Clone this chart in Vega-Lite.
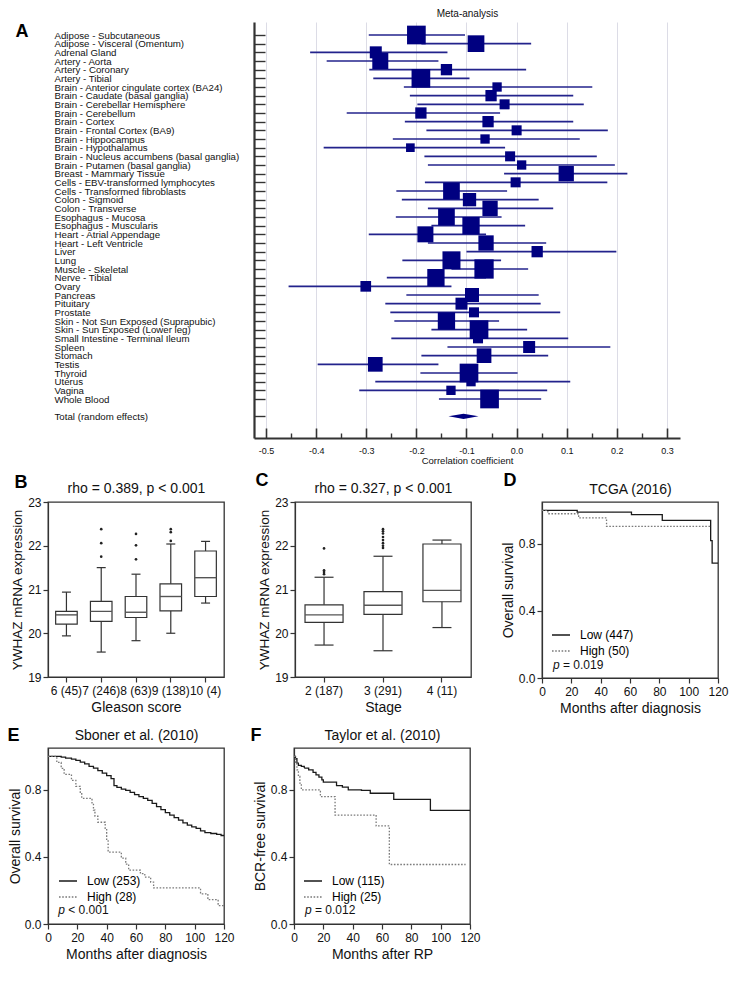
{
"$schema": "https://vega.github.io/schema/vega-lite/v6.json",
"background": "white",
"padding": {"left": 5, "top": 8, "right": 5, "bottom": 5},
"config": {
  "font": "Liberation Sans",
  "view": {"stroke": null},
  "axis": {"labelFont": "Liberation Sans", "titleFont": "Liberation Sans", "labelColor": "#111", "titleColor": "#111", "domainColor": "#333", "tickColor": "#333", "titleFontWeight": "normal", "grid": false},
  "legend": {"labelFont": "Liberation Sans"},
  "text": {"font": "Liberation Sans"}
},
"datasets": {
  "forest": [
    {"ord": 0, "kind": "s", "tissue": "   "},
    {"ord": 1, "kind": "t", "tissue": "Adipose - Subcutaneous", "r": -0.200, "lo": -0.295, "hi": -0.103, "w": 2.33},
    {"ord": 2, "kind": "t", "tissue": "Adipose - Visceral (Omentum)", "r": -0.081, "lo": -0.190, "hi": 0.029, "w": 1.86},
    {"ord": 3, "kind": "t", "tissue": "Adrenal Gland", "r": -0.281, "lo": -0.412, "hi": -0.138, "w": 0.96},
    {"ord": 4, "kind": "t", "tissue": "Artery - Aorta", "r": -0.272, "lo": -0.379, "hi": -0.156, "w": 1.71},
    {"ord": 5, "kind": "t", "tissue": "Artery - Coronary", "r": -0.140, "lo": -0.294, "hi": 0.019, "w": 0.85},
    {"ord": 6, "kind": "t", "tissue": "Artery - Tibial", "r": -0.191, "lo": -0.286, "hi": -0.094, "w": 2.33},
    {"ord": 7, "kind": "t", "tissue": "Brain - Anterior cingulate cortex (BA24)", "r": -0.039, "lo": -0.225, "hi": 0.151, "w": 0.58},
    {"ord": 8, "kind": "t", "tissue": "Brain - Caudate (basal ganglia)", "r": -0.051, "lo": -0.213, "hi": 0.113, "w": 0.85},
    {"ord": 9, "kind": "t", "tissue": "Brain - Cerebellar Hemisphere", "r": -0.024, "lo": -0.198, "hi": 0.134, "w": 0.67},
    {"ord": 10, "kind": "t", "tissue": "Brain - Cerebellum", "r": -0.191, "lo": -0.339, "hi": -0.033, "w": 0.85},
    {"ord": 11, "kind": "t", "tissue": "Brain - Cortex", "r": -0.057, "lo": -0.223, "hi": 0.113, "w": 0.85},
    {"ord": 12, "kind": "t", "tissue": "Brain - Frontal Cortex (BA9)", "r": 0.000, "lo": -0.180, "hi": 0.182, "w": 0.67},
    {"ord": 13, "kind": "t", "tissue": "Brain - Hippocampus", "r": -0.063, "lo": -0.247, "hi": 0.126, "w": 0.58},
    {"ord": 14, "kind": "t", "tissue": "Brain - Hypothalamus", "r": -0.212, "lo": -0.385, "hi": -0.023, "w": 0.50},
    {"ord": 15, "kind": "t", "tissue": "Brain - Nucleus accumbens (basal ganglia)", "r": -0.013, "lo": -0.184, "hi": 0.160, "w": 0.67},
    {"ord": 16, "kind": "t", "tissue": "Brain - Putamen (basal ganglia)", "r": 0.010, "lo": -0.177, "hi": 0.196, "w": 0.58},
    {"ord": 17, "kind": "t", "tissue": "Breast - Mammary Tissue", "r": 0.099, "lo": -0.025, "hi": 0.221, "w": 1.56},
    {"ord": 18, "kind": "t", "tissue": "Cells - EBV-transformed lymphocytes", "r": -0.002, "lo": -0.183, "hi": 0.181, "w": 0.67},
    {"ord": 19, "kind": "t", "tissue": "Cells - Transformed fibroblasts", "r": -0.130, "lo": -0.240, "hi": -0.019, "w": 1.86},
    {"ord": 20, "kind": "t", "tissue": "Colon - Sigmoid", "r": -0.094, "lo": -0.229, "hi": 0.044, "w": 1.18},
    {"ord": 21, "kind": "t", "tissue": "Colon - Transverse", "r": -0.053, "lo": -0.177, "hi": 0.073, "w": 1.56},
    {"ord": 22, "kind": "t", "tissue": "Esophagus - Mucosa", "r": -0.140, "lo": -0.241, "hi": -0.030, "w": 1.86},
    {"ord": 23, "kind": "t", "tissue": "Esophagus - Muscularis", "r": -0.091, "lo": -0.170, "hi": 0.017, "w": 2.00},
    {"ord": 24, "kind": "t", "tissue": "Heart - Atrial Appendage", "r": -0.182, "lo": -0.295, "hi": -0.061, "w": 1.71},
    {"ord": 25, "kind": "t", "tissue": "Heart - Left Ventricle", "r": -0.061, "lo": -0.177, "hi": 0.059, "w": 1.56},
    {"ord": 26, "kind": "t", "tissue": "Liver", "r": 0.041, "lo": -0.100, "hi": 0.199, "w": 0.85},
    {"ord": 27, "kind": "t", "tissue": "Lung", "r": -0.130, "lo": -0.228, "hi": -0.031, "w": 2.16},
    {"ord": 28, "kind": "t", "tissue": "Muscle - Skeletal", "r": -0.065, "lo": -0.130, "hi": 0.023, "w": 2.48},
    {"ord": 29, "kind": "t", "tissue": "Nerve - Tibial", "r": -0.161, "lo": -0.259, "hi": -0.061, "w": 2.00},
    {"ord": 30, "kind": "t", "tissue": "Ovary", "r": -0.301, "lo": -0.455, "hi": -0.130, "w": 0.76},
    {"ord": 31, "kind": "t", "tissue": "Pancreas", "r": -0.089, "lo": -0.220, "hi": 0.044, "w": 1.31},
    {"ord": 32, "kind": "t", "tissue": "Pituitary", "r": -0.110, "lo": -0.262, "hi": 0.048, "w": 0.96},
    {"ord": 33, "kind": "t", "tissue": "Prostate", "r": -0.085, "lo": -0.252, "hi": 0.087, "w": 0.67},
    {"ord": 34, "kind": "t", "tissue": "Skin - Not Sun Exposed (Suprapubic)", "r": -0.140, "lo": -0.244, "hi": -0.035, "w": 2.00},
    {"ord": 35, "kind": "t", "tissue": "Skin - Sun Exposed (Lower leg)", "r": -0.075, "lo": -0.170, "hi": 0.021, "w": 2.33},
    {"ord": 36, "kind": "t", "tissue": "Small Intestine - Terminal Ileum", "r": -0.077, "lo": -0.250, "hi": 0.103, "w": 0.67},
    {"ord": 37, "kind": "t", "tissue": "Spleen", "r": 0.025, "lo": -0.138, "hi": 0.187, "w": 0.96},
    {"ord": 38, "kind": "t", "tissue": "Stomach", "r": -0.065, "lo": -0.190, "hi": 0.063, "w": 1.44},
    {"ord": 39, "kind": "t", "tissue": "Testis", "r": -0.282, "lo": -0.397, "hi": -0.156, "w": 1.44},
    {"ord": 40, "kind": "t", "tissue": "Thyroid", "r": -0.095, "lo": -0.192, "hi": 0.002, "w": 2.33},
    {"ord": 41, "kind": "t", "tissue": "Uterus", "r": -0.091, "lo": -0.282, "hi": 0.107, "w": 0.58},
    {"ord": 42, "kind": "t", "tissue": "Vagina", "r": -0.131, "lo": -0.314, "hi": 0.061, "w": 0.58},
    {"ord": 43, "kind": "t", "tissue": "Whole Blood", "r": -0.054, "lo": -0.155, "hi": 0.049, "w": 2.33},
    {"ord": 44, "kind": "s", "tissue": " "},
    {"ord": 45, "kind": "tot", "tissue": "Total (random effects)", "r": -0.106, "lo": -0.137, "hi": -0.076},
    {"ord": 46, "kind": "s", "tissue": "  "},
    {"ord": 47, "kind": "s", "tissue": "    "}
  ],
  "boxB": [
    {"g": "6 (45)", "gi": 0, "lo": 19.94, "q1": 20.21, "med": 20.42, "q3": 20.50, "hi": 20.94},
    {"g": "7 (246)", "gi": 1, "lo": 19.57, "q1": 20.27, "med": 20.50, "q3": 20.73, "hi": 21.50},
    {"g": "8 (63)", "gi": 2, "lo": 19.83, "q1": 20.36, "med": 20.48, "q3": 20.84, "hi": 21.35},
    {"g": "9 (138)", "gi": 3, "lo": 20.00, "q1": 20.51, "med": 20.84, "q3": 21.13, "hi": 22.04},
    {"g": "10 (4)", "gi": 4, "lo": 20.69, "q1": 20.84, "med": 21.27, "q3": 21.88, "hi": 22.10}
  ],
  "outB": [
    {"g": "7 (246)", "gi": 1, "v": 21.75}, {"g": "7 (246)", "gi": 1, "v": 22.06}, {"g": "7 (246)", "gi": 1, "v": 22.38},
    {"g": "8 (63)", "gi": 2, "v": 21.69}, {"g": "8 (63)", "gi": 2, "v": 22.01}, {"g": "8 (63)", "gi": 2, "v": 22.27},
    {"g": "9 (138)", "gi": 3, "v": 22.11}, {"g": "9 (138)", "gi": 3, "v": 22.31}, {"g": "9 (138)", "gi": 3, "v": 22.38}
  ],
  "boxC": [
    {"g": "2 (187)", "gi": 0, "lo": 19.73, "q1": 20.25, "med": 20.42, "q3": 20.65, "hi": 21.28},
    {"g": "3 (291)", "gi": 1, "lo": 19.60, "q1": 20.43, "med": 20.64, "q3": 20.95, "hi": 21.76},
    {"g": "4 (11)", "gi": 2, "lo": 20.13, "q1": 20.72, "med": 20.98, "q3": 22.04, "hi": 22.13}
  ],
  "outC": [
    {"g": "2 (187)", "gi": 0, "v": 21.35}, {"g": "2 (187)", "gi": 0, "v": 21.40}, {"g": "2 (187)", "gi": 0, "v": 21.44}, {"g": "2 (187)", "gi": 0, "v": 21.94},
    {"g": "3 (291)", "gi": 1, "v": 21.95}, {"g": "3 (291)", "gi": 1, "v": 22.00}, {"g": "3 (291)", "gi": 1, "v": 22.06}, {"g": "3 (291)", "gi": 1, "v": 22.13},
    {"g": "3 (291)", "gi": 1, "v": 22.20}, {"g": "3 (291)", "gi": 1, "v": 22.28}, {"g": "3 (291)", "gi": 1, "v": 22.33}, {"g": "3 (291)", "gi": 1, "v": 22.38}
  ],
  "km": [
    {"panel": "D", "grp": "Low (447)", "t": 0, "s": 1}, {"panel": "D", "grp": "Low (447)", "t": 24, "s": 0.99}, {"panel": "D", "grp": "Low (447)", "t": 61, "s": 0.975}, {"panel": "D", "grp": "Low (447)", "t": 82, "s": 0.94}, {"panel": "D", "grp": "Low (447)", "t": 115, "s": 0.82}, {"panel": "D", "grp": "Low (447)", "t": 116, "s": 0.685}, {"panel": "D", "grp": "Low (447)", "t": 120, "s": 0.685},
    {"panel": "D", "grp": "High (50)", "t": 0, "s": 1}, {"panel": "D", "grp": "High (50)", "t": 4, "s": 0.98}, {"panel": "D", "grp": "High (50)", "t": 25, "s": 0.955}, {"panel": "D", "grp": "High (50)", "t": 44, "s": 0.905}, {"panel": "D", "grp": "High (50)", "t": 115, "s": 0.905},
    {"panel": "E", "grp": "Low (253)", "t": 0, "s": 1}, {"panel": "E", "grp": "Low (253)", "t": 9, "s": 0.996}, {"panel": "E", "grp": "Low (253)", "t": 12, "s": 0.99}, {"panel": "E", "grp": "Low (253)", "t": 16, "s": 0.984}, {"panel": "E", "grp": "Low (253)", "t": 19, "s": 0.976}, {"panel": "E", "grp": "Low (253)", "t": 22, "s": 0.966}, {"panel": "E", "grp": "Low (253)", "t": 25, "s": 0.955}, {"panel": "E", "grp": "Low (253)", "t": 28, "s": 0.94}, {"panel": "E", "grp": "Low (253)", "t": 31, "s": 0.93}, {"panel": "E", "grp": "Low (253)", "t": 34, "s": 0.915}, {"panel": "E", "grp": "Low (253)", "t": 37, "s": 0.9}, {"panel": "E", "grp": "Low (253)", "t": 40, "s": 0.885}, {"panel": "E", "grp": "Low (253)", "t": 43, "s": 0.867}, {"panel": "E", "grp": "Low (253)", "t": 45, "s": 0.825}, {"panel": "E", "grp": "Low (253)", "t": 47, "s": 0.815}, {"panel": "E", "grp": "Low (253)", "t": 50, "s": 0.805}, {"panel": "E", "grp": "Low (253)", "t": 53, "s": 0.797}, {"panel": "E", "grp": "Low (253)", "t": 56, "s": 0.785}, {"panel": "E", "grp": "Low (253)", "t": 59, "s": 0.772}, {"panel": "E", "grp": "Low (253)", "t": 62, "s": 0.76}, {"panel": "E", "grp": "Low (253)", "t": 65, "s": 0.75}, {"panel": "E", "grp": "Low (253)", "t": 68, "s": 0.737}, {"panel": "E", "grp": "Low (253)", "t": 71, "s": 0.72}, {"panel": "E", "grp": "Low (253)", "t": 74, "s": 0.7}, {"panel": "E", "grp": "Low (253)", "t": 77, "s": 0.682}, {"panel": "E", "grp": "Low (253)", "t": 80, "s": 0.665}, {"panel": "E", "grp": "Low (253)", "t": 83, "s": 0.65}, {"panel": "E", "grp": "Low (253)", "t": 86, "s": 0.635}, {"panel": "E", "grp": "Low (253)", "t": 89, "s": 0.62}, {"panel": "E", "grp": "Low (253)", "t": 92, "s": 0.603}, {"panel": "E", "grp": "Low (253)", "t": 95, "s": 0.59}, {"panel": "E", "grp": "Low (253)", "t": 98, "s": 0.58}, {"panel": "E", "grp": "Low (253)", "t": 101, "s": 0.57}, {"panel": "E", "grp": "Low (253)", "t": 104, "s": 0.555}, {"panel": "E", "grp": "Low (253)", "t": 107, "s": 0.545}, {"panel": "E", "grp": "Low (253)", "t": 111, "s": 0.54}, {"panel": "E", "grp": "Low (253)", "t": 115, "s": 0.535}, {"panel": "E", "grp": "Low (253)", "t": 118, "s": 0.528}, {"panel": "E", "grp": "Low (253)", "t": 120, "s": 0.528},
    {"panel": "E", "grp": "High (28)", "t": 0, "s": 1}, {"panel": "E", "grp": "High (28)", "t": 6, "s": 0.964}, {"panel": "E", "grp": "High (28)", "t": 9, "s": 0.929}, {"panel": "E", "grp": "High (28)", "t": 11, "s": 0.893}, {"panel": "E", "grp": "High (28)", "t": 16, "s": 0.857}, {"panel": "E", "grp": "High (28)", "t": 19, "s": 0.821}, {"panel": "E", "grp": "High (28)", "t": 22, "s": 0.786}, {"panel": "E", "grp": "High (28)", "t": 23, "s": 0.75}, {"panel": "E", "grp": "High (28)", "t": 30, "s": 0.714}, {"panel": "E", "grp": "High (28)", "t": 31, "s": 0.679}, {"panel": "E", "grp": "High (28)", "t": 32, "s": 0.643}, {"panel": "E", "grp": "High (28)", "t": 34, "s": 0.607}, {"panel": "E", "grp": "High (28)", "t": 39, "s": 0.571}, {"panel": "E", "grp": "High (28)", "t": 40, "s": 0.5}, {"panel": "E", "grp": "High (28)", "t": 41, "s": 0.429}, {"panel": "E", "grp": "High (28)", "t": 50, "s": 0.393}, {"panel": "E", "grp": "High (28)", "t": 53, "s": 0.357}, {"panel": "E", "grp": "High (28)", "t": 55, "s": 0.321}, {"panel": "E", "grp": "High (28)", "t": 63, "s": 0.3}, {"panel": "E", "grp": "High (28)", "t": 66, "s": 0.28}, {"panel": "E", "grp": "High (28)", "t": 70, "s": 0.25}, {"panel": "E", "grp": "High (28)", "t": 72, "s": 0.215}, {"panel": "E", "grp": "High (28)", "t": 104, "s": 0.18}, {"panel": "E", "grp": "High (28)", "t": 109, "s": 0.145}, {"panel": "E", "grp": "High (28)", "t": 116, "s": 0.11}, {"panel": "E", "grp": "High (28)", "t": 120, "s": 0.11},
    {"panel": "F", "grp": "Low (115)", "t": 0, "s": 1}, {"panel": "F", "grp": "Low (115)", "t": 1, "s": 0.986}, {"panel": "F", "grp": "Low (115)", "t": 2, "s": 0.96}, {"panel": "F", "grp": "Low (115)", "t": 3, "s": 0.946}, {"panel": "F", "grp": "Low (115)", "t": 5, "s": 0.94}, {"panel": "F", "grp": "Low (115)", "t": 7, "s": 0.93}, {"panel": "F", "grp": "Low (115)", "t": 10, "s": 0.92}, {"panel": "F", "grp": "Low (115)", "t": 13, "s": 0.905}, {"panel": "F", "grp": "Low (115)", "t": 15, "s": 0.89}, {"panel": "F", "grp": "Low (115)", "t": 17, "s": 0.876}, {"panel": "F", "grp": "Low (115)", "t": 19, "s": 0.86}, {"panel": "F", "grp": "Low (115)", "t": 20, "s": 0.846}, {"panel": "F", "grp": "Low (115)", "t": 29, "s": 0.826}, {"panel": "F", "grp": "Low (115)", "t": 33, "s": 0.816}, {"panel": "F", "grp": "Low (115)", "t": 37, "s": 0.8}, {"panel": "F", "grp": "Low (115)", "t": 46, "s": 0.797}, {"panel": "F", "grp": "Low (115)", "t": 52, "s": 0.78}, {"panel": "F", "grp": "Low (115)", "t": 68, "s": 0.743}, {"panel": "F", "grp": "Low (115)", "t": 93, "s": 0.678}, {"panel": "F", "grp": "Low (115)", "t": 120, "s": 0.678},
    {"panel": "F", "grp": "High (25)", "t": 0, "s": 1}, {"panel": "F", "grp": "High (25)", "t": 1, "s": 0.96}, {"panel": "F", "grp": "High (25)", "t": 2, "s": 0.92}, {"panel": "F", "grp": "High (25)", "t": 3, "s": 0.88}, {"panel": "F", "grp": "High (25)", "t": 4, "s": 0.84}, {"panel": "F", "grp": "High (25)", "t": 5, "s": 0.8}, {"panel": "F", "grp": "High (25)", "t": 18, "s": 0.76}, {"panel": "F", "grp": "High (25)", "t": 28, "s": 0.65}, {"panel": "F", "grp": "High (25)", "t": 56, "s": 0.585}, {"panel": "F", "grp": "High (25)", "t": 65, "s": 0.355}, {"panel": "F", "grp": "High (25)", "t": 117, "s": 0.355}
  ],
  "ptext": [
    {"panel": "D", "t": 7.5, "s": 0.075, "p": "p", "rest": "= 0.019"},
    {"panel": "E", "t": 7, "s": 0.085, "p": "p", "rest": "< 0.001"},
    {"panel": "F", "t": 7.5, "s": 0.085, "p": "p", "rest": "= 0.012"}
  ]
},
"columns": 1,
"spacing": 4,
"align": "none",
"resolve": {"scale": {"color": "independent", "strokeDash": "independent", "size": "independent"}},
"concat": [
  {
    "hconcat": [
      {
        "width": 1, "height": 416,
        "data": {"values": [{"k": 0}]},
        "mark": {"type": "text"},
        "encoding": {"text": {"value": ""}}
      },
      {
        "width": 426, "height": 416,
        "data": {"name": "forest"},
        "encoding": {
          "y": {"field": "tissue", "type": "nominal", "sort": {"field": "ord", "op": "min"},
            "scale": {"type": "point", "paddingOuter": 0.5},
            "axis": {"title": "A", "titleAngle": 0, "titleX": -239, "titleY": 14, "titleAlign": "left", "titleBaseline": "alphabetic", "titleFontSize": 18, "titleFontWeight": "bold", "titleColor": "#000",
              "labelAlign": "left", "labelPadding": 211, "labelFontSize": 9.7, "labelLimit": 400, "labelBaseline": "middle", "labelOverlap": false, "labelColor": "#111",
              "tickSize": -11, "tickWidth": 1.4, "tickOpacity": {"condition": {"test": "trim(datum.value) === ''", "value": 0}, "value": 1},
              "domainWidth": 2.2, "grid": false}}
        },
        "layer": [
          {"mark": {"type": "text"}, "encoding": {"text": {"value": ""}}},
          {"transform": [{"filter": "datum.kind === 't'"}],
           "mark": {"type": "rule", "color": "#23238c", "strokeWidth": 1.6},
           "encoding": {
             "x": {"field": "lo", "type": "quantitative", "scale": {"domain": [-0.524, 0.326], "nice": false, "zero": false},
               "axis": {"orient": "bottom", "values": [-0.5, -0.4, -0.3, -0.2, -0.1, 0, 0.1, 0.2, 0.3], "format": ".1f", "labelExpr": "replace(datum.label, '\u2212', '-')",
                 "labelFontSize": 9, "labelPadding": 18, "tickSize": -10, "tickWidth": 1.6, "domainWidth": 2.2, "labelFlush": false,
                 "grid": true, "gridColor": "#dcdce6", "gridWidth": 1,
                 "title": "Correlation coefficient", "titleFontSize": 9.5, "titlePadding": 0}},
             "x2": {"field": "hi"}}},
          {"transform": [{"filter": "datum.kind === 't'"}],
           "mark": {"type": "point", "shape": "square", "filled": true, "color": "#000080", "opacity": 1},
           "encoding": {
             "x": {"field": "r", "type": "quantitative", "scale": {"domain": [-0.524, 0.326], "nice": false, "zero": false},
               "axis": {"orient": "bottom", "values": [-0.45, -0.35, -0.25, -0.15, -0.05, 0.05, 0.15, 0.25], "labels": false, "domain": false, "grid": false, "tickSize": -5, "tickWidth": 1.4,
                 "title": "A", "titleOpacity": 0, "titleX": -249, "titleY": -30, "titleAlign": "left", "titleBaseline": "alphabetic", "titleFontSize": 10}},
             "size": {"field": "w", "type": "quantitative", "scale": {"domain": [0, 2.5], "range": [0, 375], "zero": true}, "legend": null}}},
          {"transform": [{"filter": "datum.kind === 'tot'"}],
           "mark": {"type": "point", "shape": "M-1,0L0,-0.17L1,0L0,0.17Z", "filled": true, "color": "#000080", "size": 900, "opacity": 1},
           "encoding": {
             "x": {"field": "r", "type": "quantitative", "scale": {"domain": [-0.524, 0.326], "nice": false, "zero": false},
               "axis": {"orient": "top", "labels": false, "ticks": false, "domain": false, "grid": false, "title": "Meta-analysis", "titleFontSize": 10, "titlePadding": 6, "titleBaseline": "alphabetic"}}}}
        ],
        "resolve": {"axis": {"x": "independent"}}
      }
    ],
    "spacing": 205,
    "bounds": "flush"
  },
  {
    "columns": 1,
    "spacing": 7,
    "align": "none",
    "resolve": {"scale": {"color": "independent", "strokeDash": "independent"}},
    "concat": [
      {
        "hconcat": [
          {
            "width": 176, "height": 175,
            "view": {"stroke": "#333", "strokeWidth": 1.3},
            "layer": [
              {"data": {"name": "boxB"}, "mark": {"type": "rule", "color": "#333", "strokeWidth": 1.2},
               "encoding": {
                 "x": {"field": "g", "type": "nominal", "sort": {"field": "gi", "op": "min"}, "scale": {"type": "band", "paddingInner": 0.38, "paddingOuter": 0.22},
                   "axis": {"orient": "bottom", "title": "Gleason score", "titleFontSize": 14, "titlePadding": 4, "labelFontSize": 12, "labelAngle": 0, "labelOverlap": false, "labelPadding": 3, "tickSize": 5, "tickWidth": 1.2, "domainWidth": 1.2}},
                 "y": {"field": "lo", "type": "quantitative", "scale": {"domain": [19, 23], "nice": false, "zero": false},
                   "axis": {"values": [19, 20, 21, 22, 23], "labelOverlap": false, "tickSize": 5, "tickWidth": 1.2, "labelFontSize": 12, "labelPadding": 2, "title": "YWHAZ mRNA expression", "titleFontSize": 13.5, "titlePadding": 3, "domainWidth": 1.2}},
                 "y2": {"field": "hi"}}},
              {"data": {"name": "boxB"}, "mark": {"type": "bar", "fill": "white", "stroke": "#333", "strokeWidth": 1.2},
               "encoding": {
                 "x": {"field": "g", "type": "nominal", "sort": {"field": "gi", "op": "min"}, "scale": {"type": "band", "paddingInner": 0.38, "paddingOuter": 0.22},
                   "axis": {"orient": "top", "labels": false, "ticks": false, "domain": false, "grid": false, "title": "rho = 0.389, p < 0.001", "titleFontSize": 14, "titlePadding": 10, "titleBaseline": "alphabetic"}},
                 "y": {"field": "q1", "type": "quantitative", "scale": {"domain": [19, 23], "nice": false, "zero": false}},
                 "y2": {"field": "q3"}}},
              {"data": {"name": "boxB"}, "mark": {"type": "tick", "color": "#555", "thickness": 1.4, "size": 21.6, "opacity": 1},
               "encoding": {
                 "x": {"field": "g", "type": "nominal", "sort": {"field": "gi", "op": "min"},
                   "axis": {"orient": "top", "labels": false, "ticks": false, "domain": false, "grid": false, "title": "B", "titleFontSize": 18, "titleFontWeight": "bold", "titleX": -34, "titleY": -15, "titleAlign": "left", "titleBaseline": "alphabetic", "titleColor": "#000"}},
                 "y": {"field": "med", "type": "quantitative"}}},
              {"data": {"name": "boxB"}, "mark": {"type": "tick", "color": "#333", "thickness": 1.2, "size": 9, "opacity": 1},
               "encoding": {
                 "x": {"field": "g", "type": "nominal", "sort": {"field": "gi", "op": "min"},
                   "axis": {"orient": "top", "labels": false, "ticks": false, "domain": false, "grid": false, "title": "B", "titleOpacity": 0, "titleX": -42, "titleY": -32, "titleAlign": "left", "titleBaseline": "top", "titleFontSize": 10}},
                 "y": {"field": "lo", "type": "quantitative"}}},
              {"data": {"name": "boxB"}, "mark": {"type": "tick", "color": "#333", "thickness": 1.2, "size": 9, "opacity": 1},
               "encoding": {
                 "x": {"field": "g", "type": "nominal", "sort": {"field": "gi", "op": "min"}, "axis": null},
                 "y": {"field": "hi", "type": "quantitative"}}},
              {"data": {"name": "outB"}, "mark": {"type": "circle", "size": 7, "color": "#222", "opacity": 1},
               "encoding": {
                 "x": {"field": "g", "type": "nominal", "sort": {"field": "gi", "op": "min"}, "axis": null},
                 "y": {"field": "v", "type": "quantitative"}}}
            ],
            "resolve": {"axis": {"x": "independent"}}
          },
          {
            "width": 176, "height": 175,
            "view": {"stroke": "#333", "strokeWidth": 1.3},
            "layer": [
              {"data": {"name": "boxC"}, "mark": {"type": "rule", "color": "#333", "strokeWidth": 1.2},
               "encoding": {
                 "x": {"field": "g", "type": "nominal", "sort": {"field": "gi", "op": "min"}, "scale": {"type": "band", "paddingInner": 0.355, "paddingOuter": 0.17},
                   "axis": {"orient": "bottom", "title": "Stage", "titleFontSize": 14, "titlePadding": 4, "labelFontSize": 12, "labelAngle": 0, "labelOverlap": false, "labelPadding": 3, "tickSize": 5, "tickWidth": 1.2, "domainWidth": 1.2}},
                 "y": {"field": "lo", "type": "quantitative", "scale": {"domain": [19, 23], "nice": false, "zero": false},
                   "axis": {"values": [19, 20, 21, 22, 23], "labelOverlap": false, "tickSize": 5, "tickWidth": 1.2, "labelFontSize": 12, "labelPadding": 2, "title": "YWHAZ mRNA expression", "titleFontSize": 13.5, "titlePadding": 3, "domainWidth": 1.2}},
                 "y2": {"field": "hi"}}},
              {"data": {"name": "boxC"}, "mark": {"type": "bar", "fill": "white", "stroke": "#333", "strokeWidth": 1.2},
               "encoding": {
                 "x": {"field": "g", "type": "nominal", "sort": {"field": "gi", "op": "min"}, "scale": {"type": "band", "paddingInner": 0.355, "paddingOuter": 0.17},
                   "axis": {"orient": "top", "labels": false, "ticks": false, "domain": false, "grid": false, "title": "rho = 0.327, p < 0.001", "titleFontSize": 14, "titlePadding": 10, "titleBaseline": "alphabetic"}},
                 "y": {"field": "q1", "type": "quantitative", "scale": {"domain": [19, 23], "nice": false, "zero": false}},
                 "y2": {"field": "q3"}}},
              {"data": {"name": "boxC"}, "mark": {"type": "tick", "color": "#555", "thickness": 1.4, "size": 38, "opacity": 1},
               "encoding": {
                 "x": {"field": "g", "type": "nominal", "sort": {"field": "gi", "op": "min"},
                   "axis": {"orient": "top", "labels": false, "ticks": false, "domain": false, "grid": false, "title": "C", "titleFontSize": 18, "titleFontWeight": "bold", "titleX": -40, "titleY": -17, "titleAlign": "left", "titleBaseline": "alphabetic", "titleColor": "#000"}},
                 "y": {"field": "med", "type": "quantitative"}}},
              {"data": {"name": "boxC"}, "mark": {"type": "tick", "color": "#333", "thickness": 1.2, "size": 19, "opacity": 1},
               "encoding": {
                 "x": {"field": "g", "type": "nominal", "sort": {"field": "gi", "op": "min"}, "axis": null},
                 "y": {"field": "lo", "type": "quantitative"}}},
              {"data": {"name": "boxC"}, "mark": {"type": "tick", "color": "#333", "thickness": 1.2, "size": 19, "opacity": 1},
               "encoding": {
                 "x": {"field": "g", "type": "nominal", "sort": {"field": "gi", "op": "min"}, "axis": null},
                 "y": {"field": "hi", "type": "quantitative"}}},
              {"data": {"name": "outC"}, "mark": {"type": "circle", "size": 7, "color": "#222", "opacity": 1},
               "encoding": {
                 "x": {"field": "g", "type": "nominal", "sort": {"field": "gi", "op": "min"}, "axis": null},
                 "y": {"field": "v", "type": "quantitative"}}}
            ],
            "resolve": {"axis": {"x": "independent"}}
          },
          {
            "width": 176, "height": 176,
            "view": {"stroke": "#333", "strokeWidth": 1.3},
            "layer": [
              {"data": {"name": "km"}, "transform": [{"filter": "datum.panel === 'D'"}],
               "mark": {"type": "line", "interpolate": "step-after", "strokeWidth": 1.3},
               "encoding": {
                 "x": {"field": "t", "type": "quantitative", "scale": {"domain": [0, 120], "nice": false, "zero": false},
                   "axis": {"orient": "bottom", "values": [0, 20, 40, 60, 80, 100, 120], "title": "Months after diagnosis", "titleFontSize": 14, "titlePadding": 4, "labelFontSize": 12, "labelPadding": 3, "tickSize": 5, "tickWidth": 1.2, "domainWidth": 1.2, "labelFlush": false, "labelOverlap": false}},
                 "y": {"field": "s", "type": "quantitative", "scale": {"domain": [0, 1.05], "nice": false},
                   "axis": {"values": [0, 0.2, 0.4, 0.6, 0.8, 1.0], "format": ".1f", "labelOverlap": false, "tickSize": 5, "tickWidth": 1.2, "labelFontSize": 12, "labelPadding": 2, "title": "Overall survival", "titleFontSize": 14, "titlePadding": 3, "domainWidth": 1.2}},
                 "color": {"field": "grp", "type": "nominal", "sort": null, "scale": {"range": ["#1a1a1a", "#7a7a7a"]},
                   "legend": {"title": null, "orient": "none", "legendX": 9, "legendY": 123, "labelFontSize": 12, "symbolType": "stroke", "symbolSize": 324, "symbolStrokeWidth": 1.3, "rowPadding": -1, "labelOffset": 9, "padding": 0}},
                 "strokeDash": {"field": "grp", "type": "nominal", "sort": null, "scale": {"range": [[1, 0], [1.6, 1.6]]},
                   "legend": {"title": null, "orient": "none", "legendX": 9, "legendY": 123, "labelFontSize": 12, "symbolType": "stroke", "symbolSize": 324, "symbolStrokeWidth": 1.3, "rowPadding": -1, "labelOffset": 9, "padding": 0}}}},
              {"data": {"name": "ptext"}, "transform": [{"filter": "datum.panel === 'D'"}],
               "mark": {"type": "text", "align": "left", "baseline": "middle", "fontSize": 12, "fontStyle": "italic", "color": "#111"},
               "encoding": {
                 "x": {"field": "t", "type": "quantitative", "axis": {"orient": "top", "labels": false, "ticks": false, "domain": false, "grid": false, "title": "TCGA (2016)", "titleFontSize": 14, "titlePadding": 9, "titleBaseline": "alphabetic"}},
                 "y": {"field": "s", "type": "quantitative"},
                 "text": {"field": "p"}}},
              {"data": {"name": "ptext"}, "transform": [{"filter": "datum.panel === 'D'"}],
               "mark": {"type": "text", "align": "left", "baseline": "middle", "fontSize": 12, "dx": 10, "color": "#111"},
               "encoding": {
                 "x": {"field": "t", "type": "quantitative", "axis": {"orient": "top", "labels": false, "ticks": false, "domain": false, "grid": false, "title": "D", "titleFontSize": 18, "titleFontWeight": "bold", "titleX": -39, "titleY": -17, "titleAlign": "left", "titleBaseline": "alphabetic", "titleColor": "#000"}},
                 "y": {"field": "s", "type": "quantitative"},
                 "text": {"field": "rest"}}}
            ],
            "resolve": {"axis": {"x": "independent"}}
          }
        ],
        "spacing": 71,
        "bounds": "flush",
        "resolve": {"scale": {"color": "independent", "strokeDash": "independent"}}
      },
      {
        "hconcat": [
          {
            "width": 176, "height": 176,
            "view": {"stroke": "#333", "strokeWidth": 1.3},
            "layer": [
              {"data": {"name": "km"}, "transform": [{"filter": "datum.panel === 'E'"}],
               "mark": {"type": "line", "interpolate": "step-after", "strokeWidth": 1.3},
               "encoding": {
                 "x": {"field": "t", "type": "quantitative", "scale": {"domain": [0, 120], "nice": false, "zero": false},
                   "axis": {"orient": "bottom", "values": [0, 20, 40, 60, 80, 100, 120], "title": "Months after diagnosis", "titleFontSize": 14, "titlePadding": 4, "labelFontSize": 12, "labelPadding": 3, "tickSize": 5, "tickWidth": 1.2, "domainWidth": 1.2, "labelFlush": false, "labelOverlap": false}},
                 "y": {"field": "s", "type": "quantitative", "scale": {"domain": [0, 1.05], "nice": false},
                   "axis": {"values": [0, 0.2, 0.4, 0.6, 0.8, 1.0], "format": ".1f", "labelOverlap": false, "tickSize": 5, "tickWidth": 1.2, "labelFontSize": 12, "labelPadding": 2, "title": "Overall survival", "titleFontSize": 14, "titlePadding": 2, "domainWidth": 1.2}},
                 "color": {"field": "grp", "type": "nominal", "sort": null, "scale": {"range": ["#1a1a1a", "#7a7a7a"]},
                   "legend": {"title": null, "orient": "none", "legendX": 10, "legendY": 123, "labelFontSize": 12, "symbolType": "stroke", "symbolSize": 324, "symbolStrokeWidth": 1.3, "rowPadding": -1, "labelOffset": 9, "padding": 0}},
                 "strokeDash": {"field": "grp", "type": "nominal", "sort": null, "scale": {"range": [[1, 0], [1.6, 1.6]]},
                   "legend": {"title": null, "orient": "none", "legendX": 10, "legendY": 123, "labelFontSize": 12, "symbolType": "stroke", "symbolSize": 324, "symbolStrokeWidth": 1.3, "rowPadding": -1, "labelOffset": 9, "padding": 0}}}},
              {"data": {"name": "ptext"}, "transform": [{"filter": "datum.panel === 'E'"}],
               "mark": {"type": "text", "align": "left", "baseline": "middle", "fontSize": 12, "fontStyle": "italic", "color": "#111"},
               "encoding": {
                 "x": {"field": "t", "type": "quantitative", "axis": {"orient": "top", "labels": false, "ticks": false, "domain": false, "grid": false, "title": "Sboner et al. (2010)", "titleFontSize": 14, "titlePadding": 9, "titleBaseline": "alphabetic"}},
                 "y": {"field": "s", "type": "quantitative"},
                 "text": {"field": "p"}}},
              {"data": {"name": "ptext"}, "transform": [{"filter": "datum.panel === 'E'"}],
               "mark": {"type": "text", "align": "left", "baseline": "middle", "fontSize": 12, "dx": 10, "color": "#111"},
               "encoding": {
                 "x": {"field": "t", "type": "quantitative", "axis": {"orient": "top", "labels": false, "ticks": false, "domain": false, "grid": false, "title": "E", "titleFontSize": 18, "titleFontWeight": "bold", "titleX": -41, "titleY": -8, "titleAlign": "left", "titleBaseline": "alphabetic", "titleColor": "#000"}},
                 "y": {"field": "s", "type": "quantitative"},
                 "text": {"field": "rest"}}},
              {"data": {"name": "ptext"}, "transform": [{"filter": "datum.panel === 'E'"}],
               "mark": {"type": "text", "opacity": 0},
               "encoding": {
                 "x": {"field": "t", "type": "quantitative", "axis": {"orient": "top", "labels": false, "ticks": false, "domain": false, "grid": false, "title": "E", "titleOpacity": 0, "titleX": -42, "titleY": -24, "titleAlign": "left", "titleBaseline": "top", "titleFontSize": 10}},
                 "y": {"field": "s", "type": "quantitative"},
                 "text": {"value": ""}}}
            ],
            "resolve": {"axis": {"x": "independent"}}
          },
          {
            "width": 176, "height": 176,
            "view": {"stroke": "#333", "strokeWidth": 1.3},
            "layer": [
              {"data": {"name": "km"}, "transform": [{"filter": "datum.panel === 'F'"}],
               "mark": {"type": "line", "interpolate": "step-after", "strokeWidth": 1.3},
               "encoding": {
                 "x": {"field": "t", "type": "quantitative", "scale": {"domain": [0, 120], "nice": false, "zero": false},
                   "axis": {"orient": "bottom", "values": [0, 20, 40, 60, 80, 100, 120], "title": "Months after RP", "titleFontSize": 14, "titlePadding": 4, "labelFontSize": 12, "labelPadding": 3, "tickSize": 5, "tickWidth": 1.2, "domainWidth": 1.2, "labelFlush": false, "labelOverlap": false}},
                 "y": {"field": "s", "type": "quantitative", "scale": {"domain": [0, 1.05], "nice": false},
                   "axis": {"values": [0, 0.2, 0.4, 0.6, 0.8, 1.0], "format": ".1f", "labelOverlap": false, "tickSize": 5, "tickWidth": 1.2, "labelFontSize": 12, "labelPadding": 2, "title": "BCR-free survival", "titleFontSize": 14, "titlePadding": 3, "domainWidth": 1.2}},
                 "color": {"field": "grp", "type": "nominal", "sort": null, "scale": {"range": ["#1a1a1a", "#7a7a7a"]},
                   "legend": {"title": null, "orient": "none", "legendX": 9, "legendY": 123, "labelFontSize": 12, "symbolType": "stroke", "symbolSize": 324, "symbolStrokeWidth": 1.3, "rowPadding": -1, "labelOffset": 9, "padding": 0}},
                 "strokeDash": {"field": "grp", "type": "nominal", "sort": null, "scale": {"range": [[1, 0], [1.6, 1.6]]},
                   "legend": {"title": null, "orient": "none", "legendX": 9, "legendY": 123, "labelFontSize": 12, "symbolType": "stroke", "symbolSize": 324, "symbolStrokeWidth": 1.3, "rowPadding": -1, "labelOffset": 9, "padding": 0}}}},
              {"data": {"name": "ptext"}, "transform": [{"filter": "datum.panel === 'F'"}],
               "mark": {"type": "text", "align": "left", "baseline": "middle", "fontSize": 12, "fontStyle": "italic", "color": "#111"},
               "encoding": {
                 "x": {"field": "t", "type": "quantitative", "axis": {"orient": "top", "labels": false, "ticks": false, "domain": false, "grid": false, "title": "Taylor et al. (2010)", "titleFontSize": 14, "titlePadding": 9, "titleBaseline": "alphabetic"}},
                 "y": {"field": "s", "type": "quantitative"},
                 "text": {"field": "p"}}},
              {"data": {"name": "ptext"}, "transform": [{"filter": "datum.panel === 'F'"}],
               "mark": {"type": "text", "align": "left", "baseline": "middle", "fontSize": 12, "dx": 10, "color": "#111"},
               "encoding": {
                 "x": {"field": "t", "type": "quantitative", "axis": {"orient": "top", "labels": false, "ticks": false, "domain": false, "grid": false, "title": "F", "titleFontSize": 18, "titleFontWeight": "bold", "titleX": -44, "titleY": -8, "titleAlign": "left", "titleBaseline": "alphabetic", "titleColor": "#000"}},
                 "y": {"field": "s", "type": "quantitative"},
                 "text": {"field": "rest"}}}
            ],
            "resolve": {"axis": {"x": "independent"}}
          }
        ],
        "spacing": 70,
        "bounds": "flush",
        "resolve": {"scale": {"color": "independent", "strokeDash": "independent"}}
      }
    ]
  }
]
}
